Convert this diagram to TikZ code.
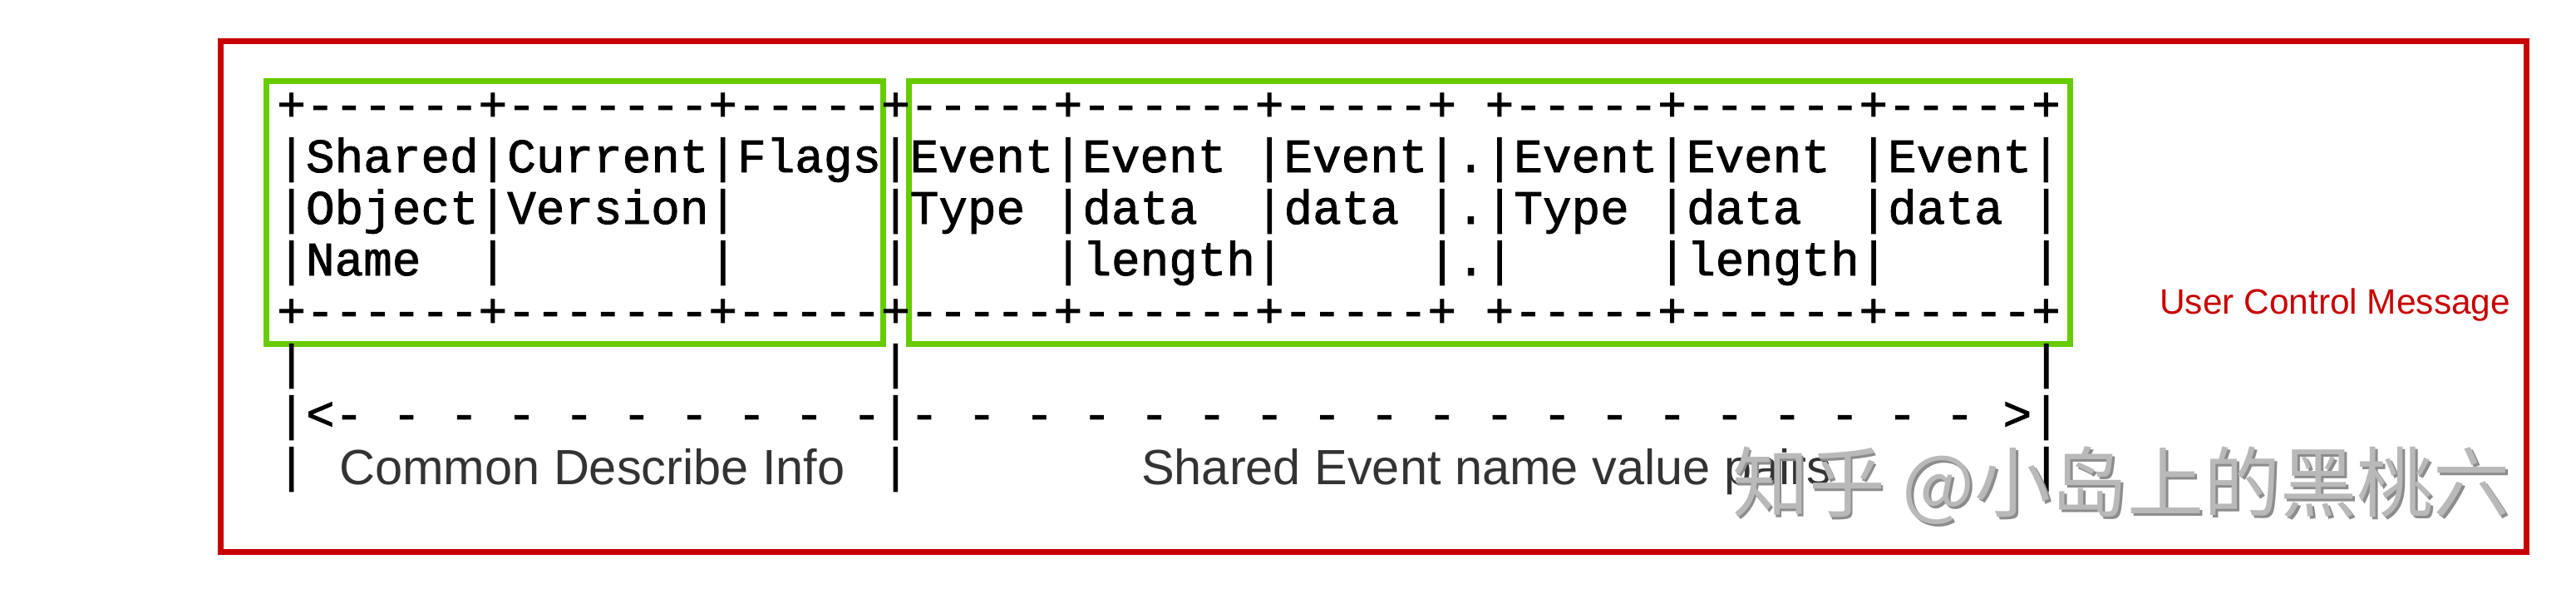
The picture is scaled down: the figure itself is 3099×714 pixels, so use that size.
\documentclass[tikz,border=0pt]{standalone}
\usepackage{fontspec}
\setmainfont{Liberation Sans}
\setmonofont{Liberation Mono}[FakeBold=1.5]
\newfontfamily\cjk{Noto Sans CJK SC}
\definecolor{boxred}{RGB}{200,0,0}
\definecolor{boxgreen}{RGB}{102,204,0}
\definecolor{labelgray}{RGB}{51,51,51}
\definecolor{wmgray}{RGB}{185,185,185}
\definecolor{wmshade}{RGB}{140,140,140}
\frenchspacing
\begin{document}
\begin{tikzpicture}[x=1pt,y=-1pt,
  asc/.style={anchor=base west, inner sep=0pt, font=\ttfamily\fontsize{57.67}{62}\selectfont},
  lab/.style={anchor=base west, inner sep=0pt, text=labelgray, font=\fontsize{59.5}{60}\selectfont},
  redframe/.style={draw=boxred, line width=7pt},
  greenframe/.style={draw=boxgreen, line width=7pt},
  wmark/.style={inner sep=0pt, font=\cjk\fontsize{92}{92}\selectfont}]
\useasboundingbox (0,0) rectangle (3099,714);
\fill[white] (0,0) rectangle (3099,714);
\draw[redframe] (265,50) rectangle (3039,663);
\draw[greenframe] (320,98) rectangle (1062,413);
\draw[greenframe] (1093,98) rectangle (2490,413);
\node[asc] (l1) at (333.2,145) {+------+-------+-----+-----+------+-----+~+-----+------+-----+};
\node[asc] (l2) at (333.2,207) {|Shared|Current|Flags|Event|Event~|Event|.|Event|Event~|Event|};
\node[asc] (l3) at (333.2,269) {|Object|Version|~~~~~|Type~|data~~|data~|.|Type~|data~~|data~|};
\node[asc] (l4) at (333.2,331) {|Name~~|~~~~~~~|~~~~~|~~~~~|length|~~~~~|.|~~~~~|length|~~~~~|};
\node[asc] (l5) at (333.2,393) {+------+-------+-----+-----+------+-----+~+-----+------+-----+};
\node[asc] (l6) at (333.2,455) {|~~~~~~~~~~~~~~~~~~~~|~~~~~~~~~~~~~~~~~~~~~~~~~~~~~~~~~~~~~~~|};
\node[asc] (l7) at (333.2,517) {|<-~-~-~-~-~-~-~-~-~-|-~-~-~-~-~-~-~-~-~-~-~-~-~-~-~-~-~-~-~>|};
\node[asc] (l8) at (333.2,579) {|~~~~~~~~~~~~~~~~~~~~|~~~~~~~~~~~~~~~~~~~~~~~~~~~~~~~~~~~~~~~|};
\node[lab] (common) at (408,582) {Common Describe Info};
\node[lab] (shared) at (1373,582) {Shared Event name value pairs};
\node[anchor=base west, inner sep=0pt, text=boxred, font=\fontsize{42.4}{43}\selectfont] (ucm) at (2598,377) {User Control Message};
\node[wmark, text=wmshade] (wmshadow) at (2554.5,586.5) {知乎 @小岛上的黑桃六};
\node[wmark, text=wmgray] (wm) at (2552,584) {知乎 @小岛上的黑桃六};
\end{tikzpicture}
\end{document}
